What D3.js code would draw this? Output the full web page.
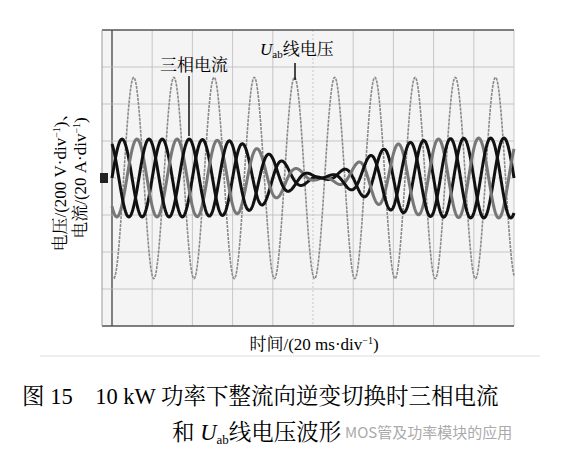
<!DOCTYPE html><html><head><meta charset="utf-8"><script src="https://cdn.jsdelivr.net/npm/d3@7"></script>
<style>body{margin:0;background:#fff}</style></head><body><svg id="c" width="565" height="453"></svg>
<script>
// time in divisions (20 ms/div), values in divisions
const xTicks=[0,1,2,3,4,5,6,7,8,9,10];
const yTicks=[-4,-3,-2,-1,0,1,2,3,4];
const voltAmp=2.72, voltPhase=0.54;          // Uab amplitude (div), phase of peak (div)
const envTimes=[0,1,2,3,3.5,4,4.5,5,5.5,6,6.5,7,8,9,10];
const envValues=[1.05,1.05,1.05,1.0,0.85,0.6,0.3,0.08,-0.1,-0.35,-0.65,-0.9,-1.05,-1.08,-1.08];
const phasePhases=[0.25,0.62,0.92];
const phaseColors=["#111","#777","#111"];
const svg=d3.select("#c");
const x=d3.scaleLinear().domain([0,10]).range([112,514]);
const y=d3.scaleLinear().domain([-4,4]).range([326,30]);
const env=d3.scaleLinear().domain(envTimes).range(envValues);
const g=svg.append("g");
g.append("rect").attr("x",102).attr("y",30).attr("width",412).attr("height",296).attr("fill","#f4f4f4");
g.selectAll(".vx").data(xTicks).join("line").attr("x1",d=>x(d)).attr("x2",d=>x(d)).attr("y1",30).attr("y2",326)
 .attr("stroke",d=>d===0?"#333":"#bbb").attr("stroke-width",d=>d===0?1.2:0.8).attr("stroke-dasharray",d=>d===5?"2,2":null);
g.selectAll(".hy").data(yTicks).join("line").attr("x1",102).attr("x2",514).attr("y1",d=>y(d)).attr("y2",d=>y(d))
 .attr("stroke",d=>Math.abs(d)===4?"#555":"#bbb").attr("stroke-width",d=>Math.abs(d)===4?1.5:0.8).attr("stroke-dasharray",d=>d===0?"2,2":null);
g.append("line").attr("x1",102).attr("x2",102).attr("y1",30).attr("y2",326).attr("stroke","#999");
g.append("rect").attr("x",100).attr("y",y(0)-5).attr("width",8).attr("height",10).attr("fill","#222");
const ts=d3.range(0,10.0001,0.01);
const line=d3.line().x(d=>x(d[0])).y(d=>y(d[1]));
svg.append("path").attr("d",line(ts.map(t=>[t,voltAmp*Math.cos(2*Math.PI*(t-voltPhase))])))
 .attr("fill","none").attr("stroke","#8a8a8a").attr("stroke-width",1.6).attr("stroke-dasharray","3,1");
phasePhases.forEach((p,i)=>{
 svg.append("path").attr("d",line(ts.map(t=>[t,env(t)*Math.cos(2*Math.PI*(t-p))])))
  .attr("fill","none").attr("stroke",phaseColors[i]).attr("stroke-width",3);
});
svg.append("line").attr("x1",189).attr("x2",189).attr("y1",76).attr("y2",136).attr("stroke","#111").attr("stroke-width",1.5);
svg.append("line").attr("x1",295).attr("x2",295).attr("y1",63).attr("y2",80).attr("stroke","#111").attr("stroke-width",1.5);
const serif="'Liberation Serif','Noto Serif CJK SC','Noto Sans CJK SC',serif";
svg.append("text").attr("x",160).attr("y",71).attr("font-size",17).attr("font-family",serif).text("三相电流");
const u=svg.append("text").attr("x",260).attr("y",55).attr("font-size",17).attr("font-family",serif);
u.append("tspan").attr("font-style","italic").text("U");
u.append("tspan").attr("font-size",11).attr("dy",3).text("ab");
u.append("tspan").attr("dy",-3).text("线电压");
svg.append("text").attr("transform","translate(66,178) rotate(-90)").attr("text-anchor","middle").attr("font-size",17).attr("font-family",serif)
 .html("电压/(200 V·div<tspan dy='-6' font-size='10'>−1</tspan><tspan dy='6'>)、</tspan>");
svg.append("text").attr("transform","translate(86,178) rotate(-90)").attr("text-anchor","middle").attr("font-size",17).attr("font-family",serif)
 .html("电流/(20 A·div<tspan dy='-6' font-size='10'>−1</tspan><tspan dy='6'>)</tspan>");
svg.append("text").attr("x",314).attr("y",350).attr("text-anchor","middle").attr("font-size",17).attr("font-family",serif)
 .html("时间/(20 ms·div<tspan dy='-6' font-size='10'>−1</tspan><tspan dy='6'>)</tspan>");
svg.append("line").attr("x1",40).attr("x2",540).attr("y1",356).attr("y2",356).attr("stroke","#ddd");
svg.append("text").attr("x",22).attr("y",404).attr("font-size",22.5).attr("font-family",serif).text("图 15　10 kW 功率下整流向逆变切换时三相电流");
const c2=svg.append("text").attr("x",172).attr("y",440).attr("font-size",22.5).attr("font-family",serif);
c2.append("tspan").text("和 ");c2.append("tspan").attr("font-style","italic").text("U");
c2.append("tspan").attr("font-size",13).attr("dy",4).text("ab");c2.append("tspan").attr("dy",-4).text("线电压波形");
svg.append("text").attr("x",345).attr("y",438).attr("font-size",15).attr("font-family","'Noto Sans CJK SC',sans-serif").attr("fill","#aaa").text("MOS管及功率模块的应用");
</script></body></html>
